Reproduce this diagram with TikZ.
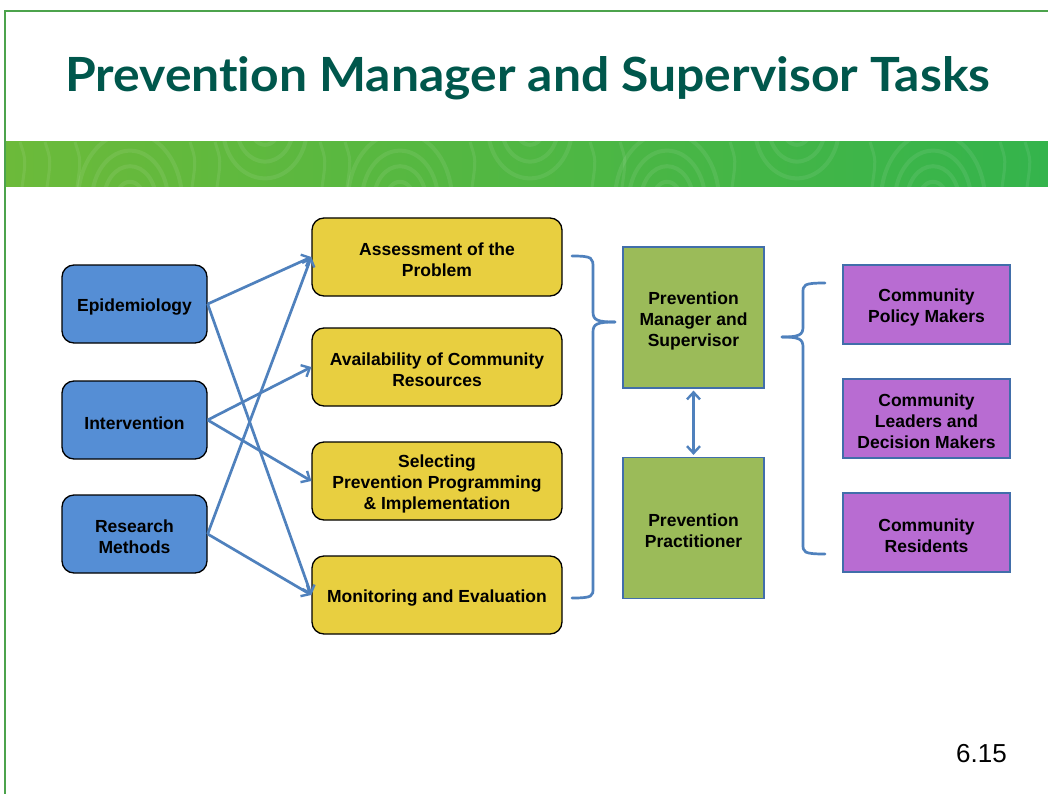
\documentclass[tikz,border=0pt]{standalone}
\usepackage{fontspec}
\setmainfont{Liberation Sans}
\newfontfamily\titlefont{Lato}[Ligatures=NoCommon]
\usetikzlibrary{arrows.meta}
\definecolor{framegreen}{RGB}{76,163,76}
\definecolor{bandL}{RGB}{108,186,58}
\definecolor{bandR}{RGB}{52,180,76}
\definecolor{titlecol}{RGB}{0,87,76}
\definecolor{bluefill}{RGB}{85,142,213}
\definecolor{yellowfill}{RGB}{232,207,64}
\definecolor{greenfill}{RGB}{155,187,89}
\definecolor{purplefill}{RGB}{184,108,210}
\definecolor{linkblue}{RGB}{79,129,189}
\definecolor{edgeblue}{RGB}{65,110,170}
\begin{document}
\begin{tikzpicture}[x=1pt,y=-1pt,
  boxtext/.style={align=center,font=\bfseries\fontsize{17.5}{21}\selectfont,text=black,inner sep=0pt,yshift=-3pt},
  leftbox/.style={draw=black,line width=1.3pt,rounded corners=12pt,fill=bluefill,minimum width=145pt,minimum height=78pt,inner sep=0pt},
  taskbox/.style={draw=black,line width=1.3pt,rounded corners=12pt,fill=yellowfill,minimum width=250pt,minimum height=78pt,inner sep=0pt},
  rolebox/.style={draw=edgeblue,line width=1.2pt,fill=greenfill,minimum width=141pt,minimum height=141pt,inner sep=0pt},
  commbox/.style={draw=edgeblue,line width=1.2pt,fill=purplefill,minimum width=167pt,minimum height=79pt,inner sep=0pt},
  txt/.style={label={[boxtext]center:#1}},
  link/.style={draw=linkblue,line width=2.7pt,-{Straight Barb[length=7pt,width=13pt,line width=2.4pt]}},
  bracket/.style={draw=linkblue,line width=2.7pt,line cap=round},
  grain/.style={white,opacity=0.08,line width=4pt}
]
\useasboundingbox (0,0) rectangle (1048,794);
\fill[white] (0,0) rectangle (1048,794);
% band
\shade[left color=bandL,right color=bandR] (5,142) rectangle (1048,187);
\begin{scope}
\clip (5,142) rectangle (1048,187);
\foreach \cx in {130,400,667,933}{
  \foreach \r in {14,26,38,52}{
    \draw[grain] (\cx,200) ellipse[x radius=\r pt,y radius=1.3*\r pt];
  }
}
\foreach \cx in {265,530,797}{
  \foreach \r in {14,28,42}{
    \draw[grain] (\cx,128) ellipse[x radius=\r pt,y radius=1.2*\r pt];
  }
}
\foreach \xx in {20,45,75,190,215,320,345,470,590,620,730,870,1000,1025}{
  \draw[grain,line width=3pt] (\xx,142) .. controls (\xx+6,160) .. (\xx+2,187);
}
\end{scope}
% frame
\draw[framegreen,line width=2pt] (5,794) -- (5,11) -- (1048,11);
% title
\node[anchor=base west,inner sep=0pt,text=titlecol] (title) at (65,92)
  {\resizebox{925pt}{35pt}{\titlefont\bfseries Prevention Manager and Supervisor Tasks}};
% left boxes
\node[leftbox,txt={Epidemiology}] (epi) at (134.5,304) {};
\node[leftbox,txt={Intervention}] (int) at (134.5,420) {};
\node[leftbox,txt={Research\\Methods}] (res) at (134.5,534) {};
% task boxes
\node[taskbox,txt={Assessment of the\\Problem}] (ass) at (437,257) {};
\node[taskbox,txt={Availability of Community\\Resources}] (ava) at (437,367) {};
\node[taskbox,txt={Selecting\\Prevention Programming\\\& Implementation}] (sel) at (437,481) {};
\node[taskbox,txt={Monitoring and Evaluation}] (mon) at (437,595) {};
% role boxes
\node[rolebox,txt={Prevention\\Manager and\\Supervisor}] (mgr) at (693.5,317.5) {};
\node[rolebox,txt={Prevention\\Practitioner}] (prac) at (693.5,528) {};
% community boxes
\node[commbox,txt={Community\\Policy Makers}] (pol) at (926.5,304.5) {};
\node[commbox,txt={Community\\Leaders and\\Decision Makers}] (lead) at (926.5,418.5) {};
\node[commbox,txt={Community\\Residents}] (resd) at (926.5,532.5) {};
% links
\draw[link] (epi.east) -- (ass.west);
\draw[link] (epi.east) -- (mon.west);
\draw[link] (int.east) -- (ava.west);
\draw[link] (int.east) -- (sel.west);
\draw[link] (res.east) -- (ass.west);
\draw[link] (res.east) -- (mon.west);
\draw[draw=linkblue,line width=2.7pt,{Straight Barb[length=7pt,width=13pt,line width=2.4pt]}-{Straight Barb[length=7pt,width=13pt,line width=2.4pt]},shorten <=2pt,shorten >=2pt] (mgr.south) -- (prac.north);
% bracket 1
\coordinate (b1top) at (572,256);
\coordinate (b1tip) at (615,322);
\coordinate (b1bot) at (572,598);
\draw[bracket] (b1top) .. controls (593,256) and (593,258) .. (593,268) -- (593,312)
   .. controls (593,320) and (597,322) .. (b1tip);
\draw[bracket] (b1tip) .. controls (597,322) and (593,324) .. (593,332) -- (593,588)
   .. controls (593,596) and (593,598) .. (b1bot);
% bracket 2
\coordinate (b2top) at (825,283);
\coordinate (b2tip) at (782,337);
\coordinate (b2bot) at (825,554);
\draw[bracket] (b2top) .. controls (803,283) and (803,285) .. (803,293) -- (803,327)
   .. controls (803,335) and (799,337) .. (b2tip);
\draw[bracket] (b2tip) .. controls (799,337) and (803,339) .. (803,347) -- (803,544)
   .. controls (803,552) and (803,554) .. (b2bot);
% page number
\node[anchor=base east,inner sep=0pt] (pg) at (1007,762) {\fontsize{26}{31}\selectfont 6.15};
\end{tikzpicture}
\end{document}
